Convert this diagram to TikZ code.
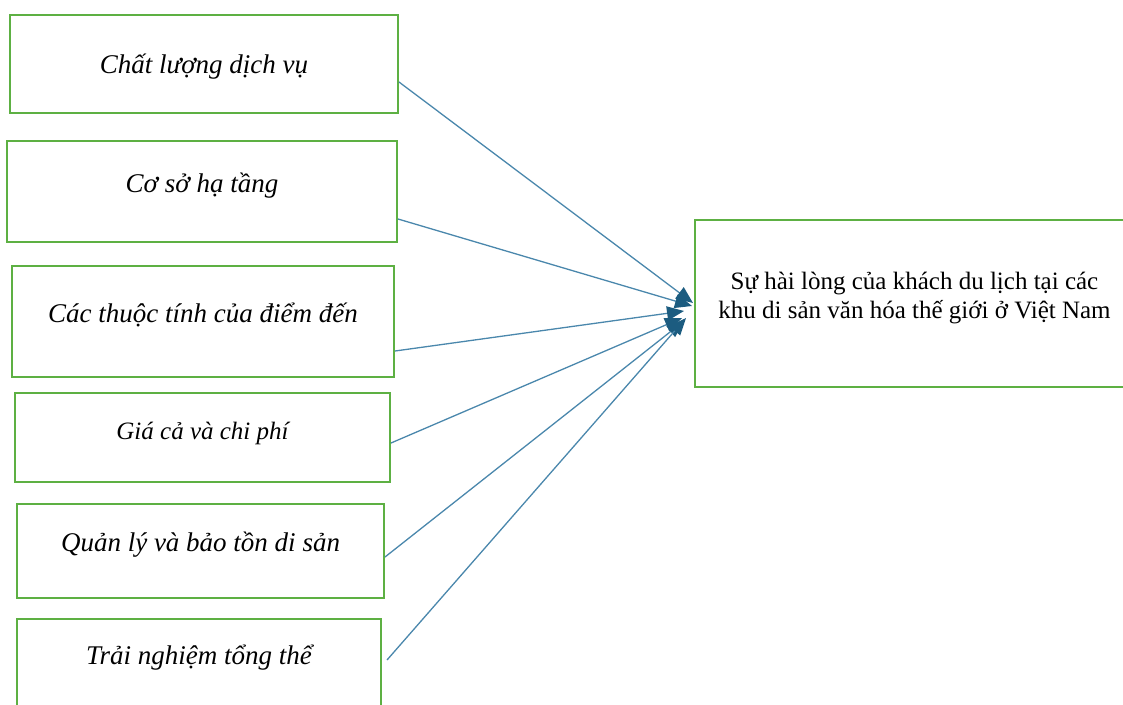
\documentclass[tikz,border=0pt]{standalone}
\usepackage{fontspec}
\setmainfont{Liberation Serif}
\usetikzlibrary{arrows.meta}
\definecolor{BoxGreen}{HTML}{5DB043}
\definecolor{LinkBlue}{HTML}{4A87AC}
\definecolor{TipBlue}{HTML}{1C5C80}

\begin{document}
\begin{tikzpicture}[x=1pt,y=-1pt,
    box/.style 2 args={draw=BoxGreen,line width=2pt,minimum width=#1,minimum height=#2,
      inner sep=0pt,font=\itshape\fontsize{27}{32}\selectfont,text height=20pt,text depth=2pt},
    lift/.style={text depth=#1},
    arr/.style={-{Triangle[length=17pt,width=14pt,color=TipBlue]},line width=1.3pt,draw=LinkBlue}
  ]
    \clip (0,0) rectangle (1123,704);
    \node[box={388pt}{98pt}] (quality) at (204,64) {Chất lượng dịch vụ};
    \node[box={390pt}{101pt},lift=18pt] (infra) at (202,191.5) {Cơ sở hạ tầng};
    \node[box={382pt}{111pt},lift=18pt] (attrib) at (203,321.5) {Các thuộc tính của điểm đến};
    \node[box={375pt}{89pt},lift=16pt,font=\itshape\fontsize{25}{30}\selectfont] (price) at (202.5,437.5) {Giá cả và chi phí};
    \node[box={367pt}{94pt},lift=20pt] (heritage) at (200.5,551) {Quản lý và bảo tồn di sản};
    \node[box={364pt}{91pt},lift=20pt] (experience) at (199,664.5) {Trải nghiệm tổng thể};
    \node[box={439pt}{167pt},font=\fontsize{25}{29}\selectfont,align=center,
      text height=36pt,text depth=6pt] (satisfaction) at (914.5,303.5)
      {Sự hài lòng của khách du lịch tại các\\khu di sản văn hóa thế giới ở Việt Nam};
    % links to the outcome
    \draw[arr] ([yshift=-18pt]quality.east) -- ([xshift=-1pt,yshift=0.5pt]satisfaction.west);
    \draw[arr] ([yshift=-27.5pt]infra.east) -- ([xshift=-2pt,yshift=-2.5pt]satisfaction.west);
    \draw[arr] ([yshift=-29.5pt]attrib.east) -- ([xshift=-10pt,yshift=-7.5pt]satisfaction.west);
    \draw[arr] ([yshift=-5.5pt]price.east) -- ([xshift=-12pt,yshift=-14.5pt]satisfaction.west);
    \draw[arr] ([yshift=-6pt]heritage.east) -- ([xshift=-10pt,yshift=-17.5pt]satisfaction.west);
    \draw[arr] ([xshift=5pt,yshift=4.5pt]experience.east) -- ([xshift=-8pt,yshift=-14.5pt]satisfaction.west);
  \end{tikzpicture}
\end{document}
